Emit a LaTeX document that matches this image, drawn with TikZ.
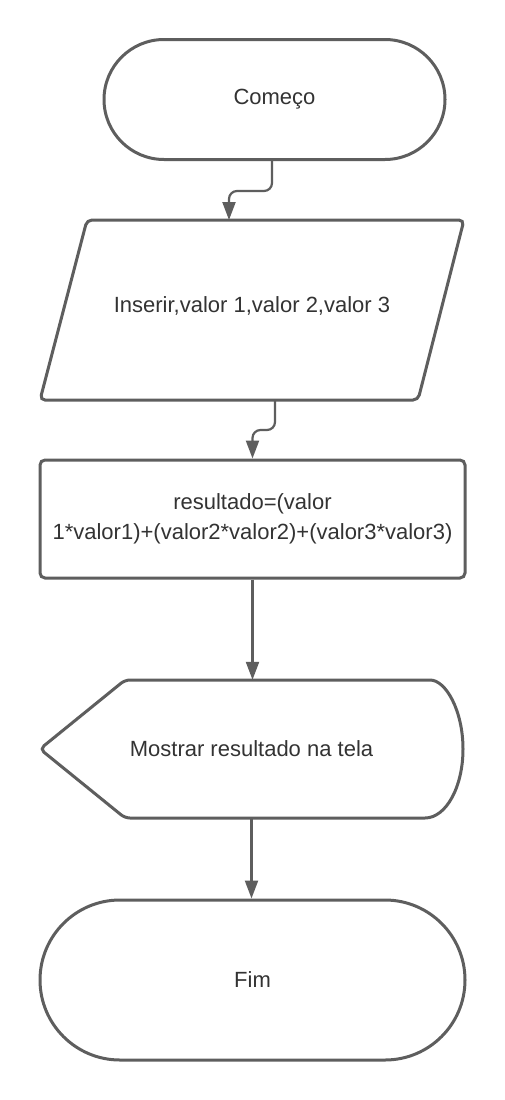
\documentclass[tikz,border=0pt]{standalone}
\usepackage{fontspec}
\setmainfont{Liberation Sans}
\usetikzlibrary{shapes.misc,arrows.meta}
\definecolor{edge}{HTML}{5E5E5E}
\definecolor{txt}{HTML}{333333}
\begin{document}
\begin{tikzpicture}[x=1pt,y=-1pt,
  shapeline/.style={draw=edge,line width=3pt},
  lbl/.style={text=txt,font=\fontsize{22}{30}\selectfont,align=center,inner sep=0pt},
  conn/.style={draw=edge,line width=2.2pt,-{Triangle[length=18pt,width=13pt]},rounded corners=8pt},
  terminal/.style={shapeline,rounded rectangle,inner sep=0pt,lbl},
  procbox/.style={shapeline,rectangle,rounded corners=5pt,inner sep=0pt,lbl}]
\fill[white] (0,0) rectangle (505,1100);
\useasboundingbox (0,0) rectangle (505,1100);

% start terminal
\node[terminal,minimum width=341pt,minimum height=120pt] (start) at (274.5,99.5) {Começo};

% input (parallelogram)
\node[lbl,minimum width=424pt,minimum height=180pt] (inp) at (252,306) {Inserir,valor 1,valor 2,valor 3};
\draw[shapeline,rounded corners=5pt] (87,220) -- (464,220) -- (418,400) -- (40,400) -- cycle;
\coordinate (inTop) at (229,220);
\coordinate (inBot) at (275,400);

% process
\node[procbox,minimum width=425pt,minimum height=118pt] (proc) at (252.5,519) {resultado=(valor\\1*valor1)+(valor2*valor2)+(valor3*valor3)};

% display
\node[lbl,minimum width=423pt,minimum height=138pt] (disp) at (251.5,749) {Mostrar resultado na tela};
\draw[shapeline,rounded corners=5pt] (40,749) -- (125,680) -- (425,680)
  [sharp corners] .. controls (446,680) and (463,711) .. (463,749)
  .. controls (463,787) and (446,818) .. (425,818)
  [rounded corners=5pt] -- (125,818) -- cycle;

% end terminal
\node[terminal,minimum width=425pt,minimum height=160pt] (fin) at (252.5,980) {Fim};

% connectors
\draw[conn] ([xshift=-2.5pt]start.south) -- ++(0,30) -| (inTop);
\draw[conn] (inBot) -- ++(0,30) -| (proc.north);
\draw[conn] (proc.south) -- (proc.south |- disp.north);
\draw[conn] (disp.south) -- (disp.south |- fin.north);
\end{tikzpicture}
\end{document}
